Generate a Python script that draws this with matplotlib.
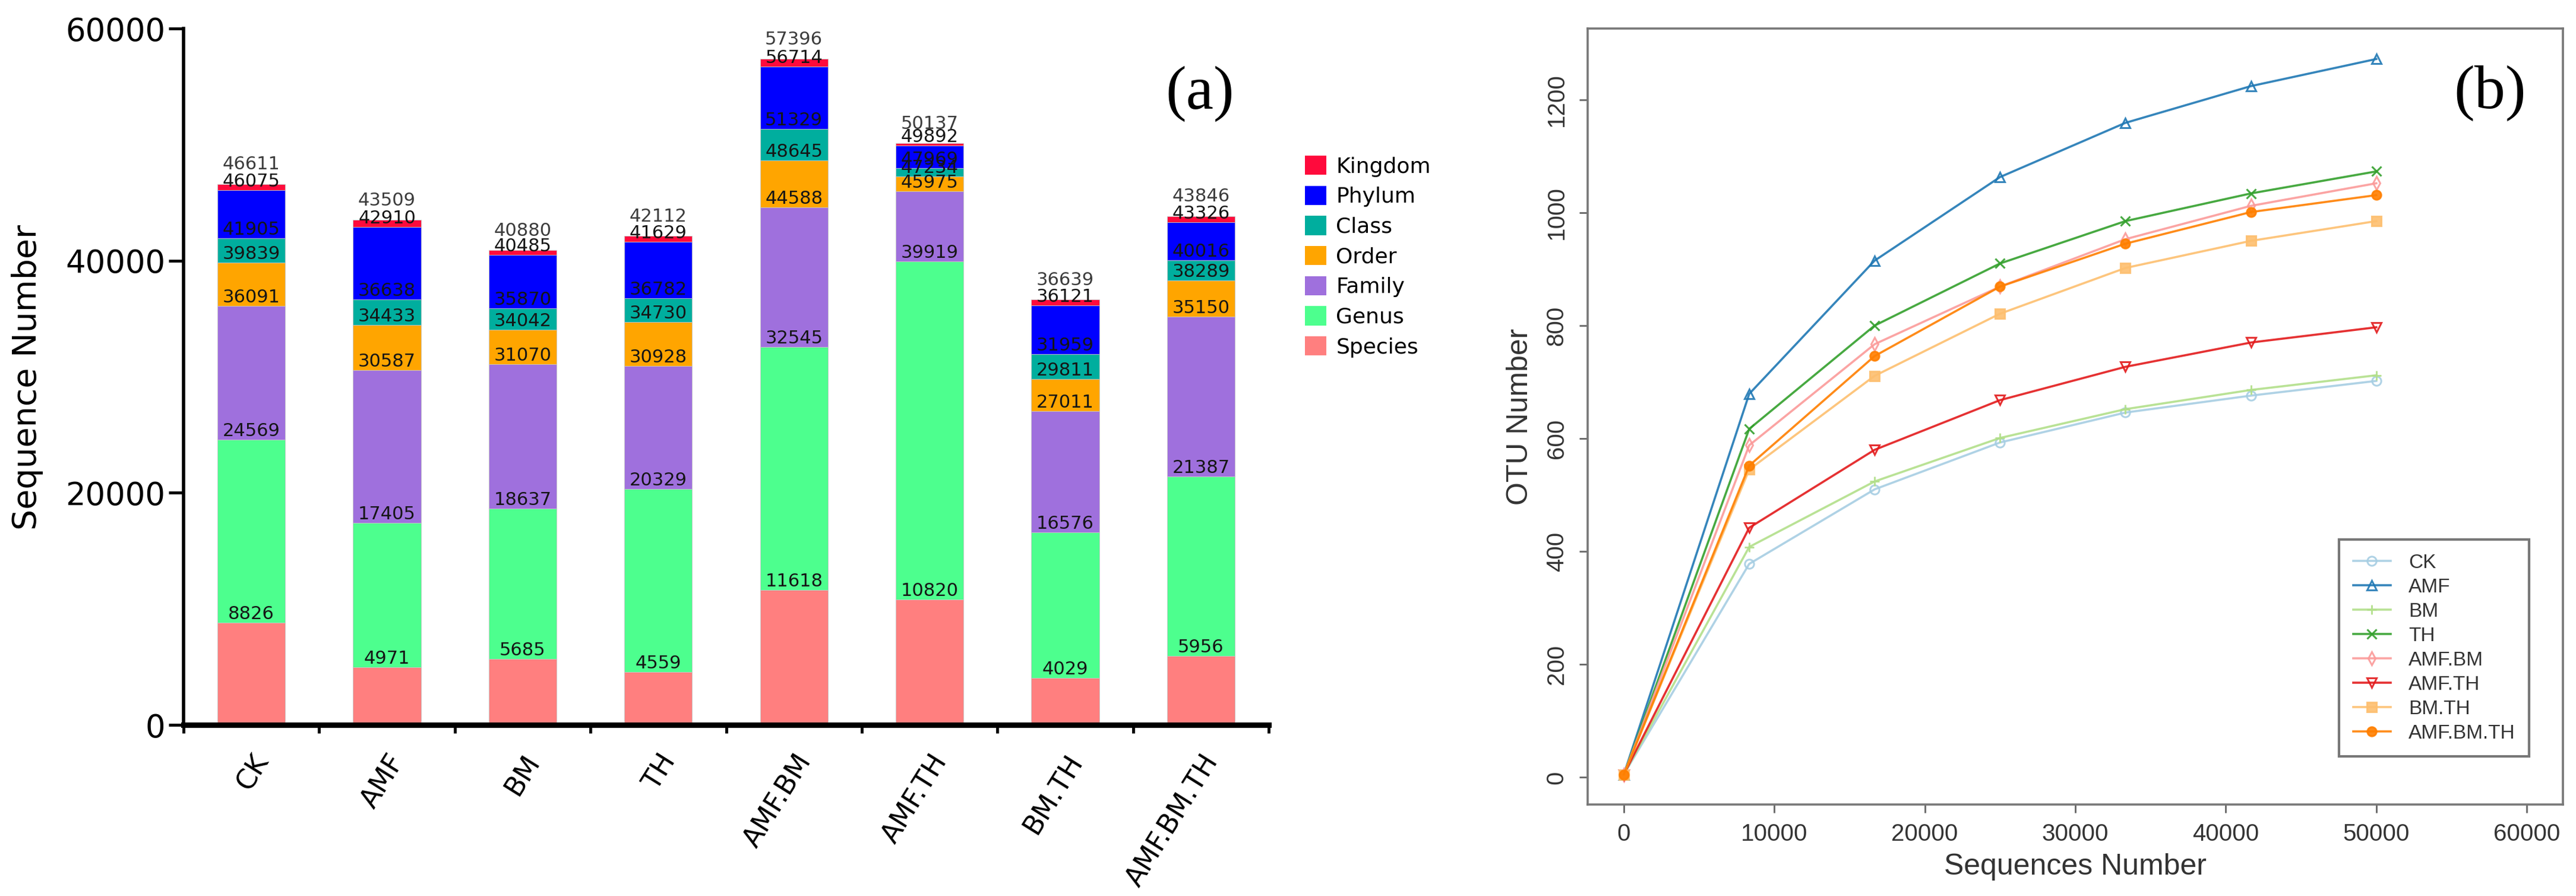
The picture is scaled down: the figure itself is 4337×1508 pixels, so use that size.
import matplotlib
matplotlib.use('Agg')
import matplotlib.pyplot as plt
from matplotlib.patches import Patch

# ---- data, panel (a): cumulative sequence number at the top of each rank ----
groups = ['CK', 'AMF', 'BM', 'TH', 'AMF.BM', 'AMF.TH', 'BM.TH', 'AMF.BM.TH']
species = [8826, 4971, 5685, 4559, 11618, 10820, 4029, 5956]
genus = [24569, 17405, 18637, 20329, 32545, 39919, 16576, 21387]
family = [36091, 30587, 31070, 30928, 44588, 45975, 27011, 35150]
order = [39839, 34433, 34042, 34730, 48645, 47234, 29811, 38289]
class_ = [41905, 36638, 35870, 36782, 51329, 47969, 31959, 40016]
phylum = [46075, 42910, 40485, 41629, 56714, 49892, 36121, 43326]
kingdom = [46611, 43509, 40880, 42112, 57396, 50137, 36639, 43846]

rank_names = ['Species', 'Genus', 'Family', 'Order', 'Class', 'Phylum', 'Kingdom']
rank_colors = ['#FF7F7F', '#4DFF8E', '#9F70DD', '#FFA500', '#00AE9E', '#0000FF', '#FF0A3C']

# ---- data, panel (b): rarefaction curves ----
seq_depth = [0, 8333, 16666, 25000, 33333, 41666, 50000]
otu_ck = [5, 378, 510, 593, 646, 676, 702]
otu_amf = [5, 679, 915, 1063, 1159, 1224, 1272]
otu_bm = [5, 408, 524, 601, 652, 686, 712]
otu_th = [5, 617, 800, 910, 985, 1034, 1073]
otu_amf_bm = [5, 588, 767, 869, 953, 1012, 1052]
otu_amf_th = [5, 442, 580, 668, 727, 770, 797]
otu_bm_th = [5, 545, 711, 821, 902, 950, 985]
otu_amf_bm_th = [5, 552, 746, 869, 945, 1001, 1031]

W, H = 4337, 1508
fig = plt.figure(figsize=(W / 100, H / 100), dpi=100)

# ================= panel (a) =================
ax = fig.add_axes([309 / W, 1 - 1220 / H, (2136 - 309) / W, (1220 - 48) / H])
levels = [species, genus, family, order, class_, phylum, kingdom]
x = list(range(len(groups)))
prev = [0] * len(groups)
for vals, col in zip(levels, rank_colors):
    heights = [v - p for v, p in zip(vals, prev)]
    ax.bar(x, heights, bottom=prev, width=0.5, color=col,
           edgecolor='#c8c8c8', linewidth=0.6, zorder=2)
    prev = vals

# value labels at the top of every segment
for li, vals in enumerate(levels):
    top = li == len(levels) - 1
    for xi, v in zip(x, vals):
        ax.annotate(str(v), (xi, v), xytext=(0, 13 if top else 0),
                    textcoords='offset points', ha='center', va='bottom',
                    fontsize=22, color='#3c3c3c' if top else '#151515', zorder=3)

ax.set_xlim(-0.5, len(groups) - 0.5)
ax.set_ylim(0, 60000)
ax.set_yticks([0, 20000, 40000, 60000])
ax.tick_params(axis='y', labelsize=38, length=18, width=3.5, pad=4)
ax.set_xticks(x)
ax.set_xticklabels(groups, rotation=58, ha='right', rotation_mode='anchor', fontsize=33)
ax.tick_params(axis='x', which='major', length=0, pad=30)
ax.set_xticks([i - 0.5 for i in range(len(groups) + 1)], minor=True)
ax.tick_params(axis='x', which='minor', length=10, width=3.5)
for s in ['top', 'right']:
    ax.spines[s].set_visible(False)
ax.spines['left'].set_linewidth(4)
ax.spines['bottom'].set_linewidth(6.5)

fig.text(46 / W, 1 - 635 / H, 'Sequence Number', rotation=90, ha='center',
         va='center', fontsize=40)
fig.text(2020 / W, 1 - 158 / H, '(a)', ha='center', va='center', fontsize=75,
         family='Liberation Serif')

handles = [Patch(facecolor=c, edgecolor='none') for c in rank_colors[::-1]]
fig.legend(handles, rank_names[::-1], loc='upper left',
           bbox_to_anchor=(2197 / W, 1 - 262 / H), frameon=False, fontsize=26,
           handlelength=1.0, handleheight=1.0, handletextpad=0.45,
           labelspacing=0.42, borderpad=0, borderaxespad=0)

# ================= panel (b) =================
bx = fig.add_axes([2673 / W, 1 - 1354 / H, (4315 - 2673) / W, (1354 - 48) / H])
series = [
    ('CK', otu_ck, '#a6cee3', 'o', 'none'),
    ('AMF', otu_amf, '#1f78b4', '^', 'none'),
    ('BM', otu_bm, '#b2df8a', '+', None),
    ('TH', otu_th, '#33a02c', 'x', None),
    ('AMF.BM', otu_amf_bm, '#fb9a99', 'd', 'none'),
    ('AMF.TH', otu_amf_th, '#e31a1c', 'v', 'none'),
    ('BM.TH', otu_bm_th, '#fdbf6f', 's', None),
    ('AMF.BM.TH', otu_amf_bm_th, '#ff7f00', 'o', None),
]
for name, vals, col, mk, fc in series:
    kw = dict(color=col, marker=mk, markersize=11, linewidth=2.6,
              markeredgewidth=2.2, label=name, alpha=0.9)
    if fc is not None:
        kw['markerfacecolor'] = fc
    bx.plot(seq_depth, vals, **kw)

bx.set_xlim(-2400, 62400)
bx.set_ylim(-48, 1326)
bx.set_xticks([0, 10000, 20000, 30000, 40000, 50000, 60000])
bx.set_yticks([0, 200, 400, 600, 800, 1000, 1200])
bx.tick_params(axis='both', labelsize=29, length=10, width=2, color='#666666',
               labelcolor='#333333')
bx.tick_params(axis='x', pad=12)
bx.tick_params(axis='y', pad=14)
for lab in bx.get_yticklabels():
    lab.set_rotation(90)
    lab.set_va('center')
for s in bx.spines.values():
    s.set_color('#777777')
    s.set_linewidth(2.6)
bx.set_xlabel('Sequences Number', fontsize=36, color='#333333', labelpad=10)
bx.set_ylabel('OTU Number', fontsize=36, color='#333333', labelpad=14)
for t in bx.get_xticklabels() + bx.get_yticklabels():
    t.set_family('Liberation Sans')
bx.xaxis.label.set_family('Liberation Sans')
bx.yaxis.label.set_family('Liberation Sans')

leg = bx.legend(loc='lower right', bbox_to_anchor=(4258 / W, 1 - 1273 / H),
                bbox_transform=fig.transFigure, frameon=True,
                fancybox=False, handlelength=1.9, handletextpad=0.9,
                labelspacing=0.3, borderpad=0.7, borderaxespad=0,
                prop={'family': 'Liberation Sans', 'size': 24})
leg.get_frame().set_edgecolor('#555555')
leg.get_frame().set_linewidth(3)
for t in leg.get_texts():
    t.set_color('#333333')

fig.text(4192 / W, 1 - 157 / H, '(b)', ha='center', va='center', fontsize=75,
         family='Liberation Serif')

fig.savefig('out.png', dpi=100)
